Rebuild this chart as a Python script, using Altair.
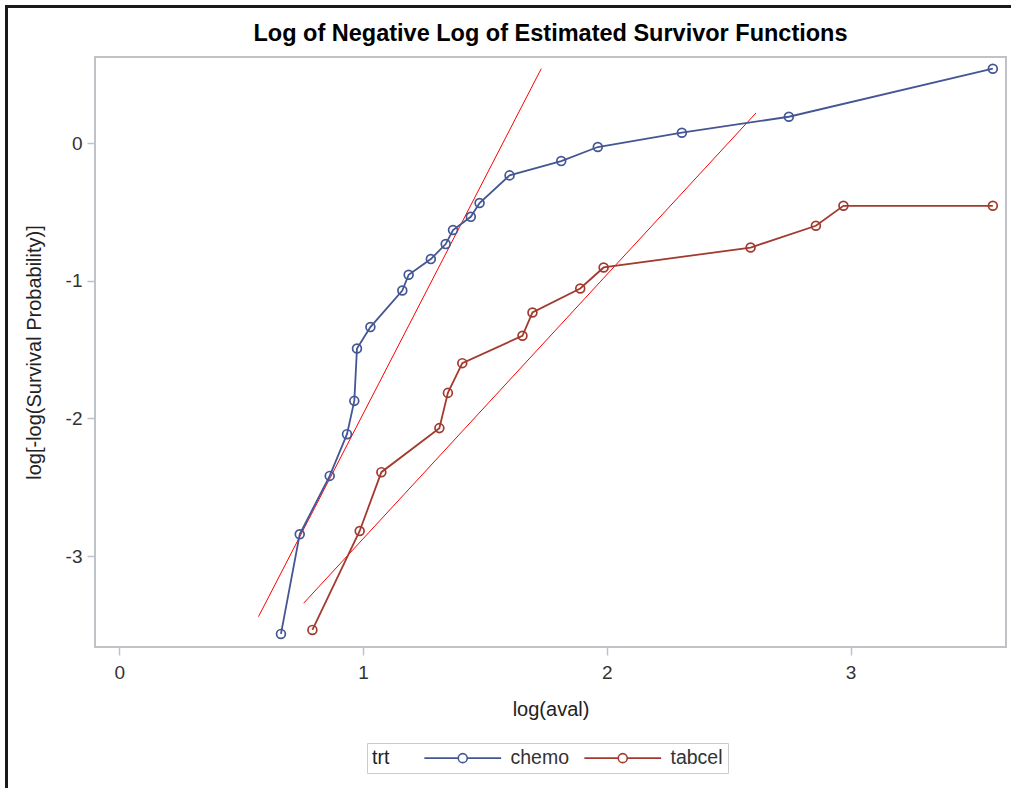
import altair as alt
import pandas as pd

# ---- data ----
chemo_x = [0.663, 0.740, 0.863, 0.934, 0.964, 0.975, 1.030, 1.161, 1.187, 1.278,
           1.339, 1.369, 1.442, 1.478, 1.601, 1.813, 1.963, 2.308, 2.747, 3.584]
chemo_y = [-3.566, -2.842, -2.418, -2.115, -1.873, -1.493, -1.337, -1.071, -0.957, -0.843,
           -0.734, -0.632, -0.536, -0.436, -0.235, -0.131, -0.029, 0.075, 0.191, 0.540]

tabcel_x = [0.792, 0.986, 1.075, 1.313, 1.348, 1.407, 1.654, 1.695, 1.891, 1.987,
            2.590, 2.858, 2.971, 3.584]
tabcel_y = [-3.537, -2.818, -2.391, -2.071, -1.815, -1.599, -1.400, -1.231, -1.057, -0.904,
            -0.759, -0.601, -0.456, -0.456]

# fitted reference lines (start / end points)
ref_x1 = [0.571, 0.756]
ref_y1 = [-3.440, -3.343]
ref_x2 = [1.731, 2.612]
ref_y2 = [0.540, 0.218]

x_ticks = [0, 1, 2, 3]
y_ticks = [-3, -2, -1, 0]
groups = ["chemo", "tabcel"]
group_colors = ["#445694", "#A23A2E"]

df = pd.DataFrame({
    "x": chemo_x + tabcel_x,
    "y": chemo_y + tabcel_y,
    "trt": ["chemo"] * len(chemo_x) + ["tabcel"] * len(tabcel_x),
    "ord": list(range(len(chemo_x))) + list(range(len(tabcel_x))),
})
refs = pd.DataFrame({"x": ref_x1, "y": ref_y1, "x2": ref_x2, "y2": ref_y2})

FONT = "Liberation Sans"
xs = alt.Scale(domain=[-0.1, 3.638], nice=False, zero=False)
ys = alt.Scale(domain=[-3.661, 0.625], nice=False, zero=False)

x_enc = alt.X("x:Q", scale=xs,
              axis=alt.Axis(values=x_ticks, title="log(aval)", labelPadding=8,
                            titlePadding=17, labelExpr="'' + datum.value"))
y_enc = alt.Y("y:Q", scale=ys,
              axis=alt.Axis(values=y_ticks, title="log[-log(Survival Probability)]",
                            labelPadding=5, titlePadding=21, labelExpr="'' + datum.value"))

# legend glyph: line with a small hollow circle (units of 6 px)
sym = ("M-6.4,0L-0.75,0M0.75,0L6.4,0"
       "M-0.75,0A0.75,0.75,0,1,1,0.75,0A0.75,0.75,0,1,1,-0.75,0")

color = alt.Color(
    "trt:N",
    scale=alt.Scale(domain=groups, range=group_colors),
    legend=alt.Legend(
        title="trt", orient="none", direction="horizontal",
        legendX=272, legendY=686, titleOrient="left", titleAnchor="middle",
        titleBaseline="middle",
        symbolType=sym, symbolSize=144, symbolStrokeWidth=1.6,
        symbolFillColor="transparent",
        labelOffset=38, columnPadding=11, titlePadding=63,
        padding=5, strokeColor="#C8CACC", fillColor="white",
        labelFontSize=19.5, titleFontSize=19.5, titleFontWeight="normal",
        labelFont=FONT, titleFont=FONT, labelColor="#333333", titleColor="#222222",
    ),
)

base = alt.Chart(df).encode(x=x_enc, y=y_enc, color=color)
lines = base.mark_line(strokeWidth=1.8).encode(order="ord:Q")
points = base.mark_point(filled=False, size=78, strokeWidth=1.7, opacity=1)

reflines = alt.Chart(refs).mark_rule(color="#FF0000", strokeWidth=1).encode(
    x=alt.X("x:Q", scale=xs), y=alt.Y("y:Q", scale=ys),
    x2="x2:Q", y2="y2:Q")

frame_data = alt.Data(values=[{"a": 0}])
frame_left = alt.Chart(frame_data).mark_rule(color="#1a1a1a", strokeWidth=3).encode(
    x=alt.value(-88.5), y=alt.value(-52), y2=alt.value(731))
frame_top = alt.Chart(frame_data).mark_rule(color="#1a1a1a", strokeWidth=3).encode(
    x=alt.value(-90), x2=alt.value(917), y=alt.value(-50.5))

chart = alt.layer(reflines, lines, points, frame_left, frame_top).properties(
    width=911, height=590,
    padding={"left": 95, "top": 57, "right": 5, "bottom": 141},
    autosize=alt.AutoSizeParams(type="none"),
    background="white",
    title=alt.TitleParams(
        "Log of Negative Log of Estimated Survivor Functions",
        font=FONT, fontSize=23.5, fontWeight="bold", color="#000000",
        anchor="middle", offset=0, dy=42,
    ),
).configure_view(
    stroke="#BFC3C7", strokeWidth=2,
).configure_axis(
    grid=False, domain=False, tickColor="#BFC3C7", tickSize=8, tickWidth=1.5,
    labelFont=FONT, titleFont=FONT, labelFontSize=19, titleFontSize=20,
    labelColor="#333333", titleColor="#222222", titleFontWeight="normal",
)

chart.save("out.html", embed_options={"renderer": "svg", "actions": False})
